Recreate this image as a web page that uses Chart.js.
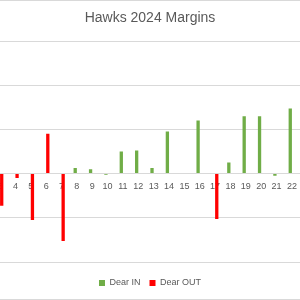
<!DOCTYPE html>
<html>
<head>
<meta charset="utf-8">
<script src="https://cdn.jsdelivr.net/npm/chart.js@4"></script>
<style>
  body { margin: 0; background: #fff; }
  #wrap { position: relative; width: 300px; height: 300px; overflow: hidden; }
  #box { position: absolute; left: -10px; top: 0; width: 320px; height: 300px; }
  .edge { position: absolute; left: 0; width: 300px; height: 1px; background: #d9d9d9; }
</style>
</head>
<body>
<div id="wrap">
  <div id="box"><canvas id="marginsChart"></canvas></div>
  <div class="edge" style="top:0"></div>
  <div class="edge" style="top:299px"></div>
</div>
<script>
// Rounds visible in the chart (round 3 is cut at the left edge)
const rounds = ["3", "4", "5", "6", "7", "8", "9", "10", "11", "12",
                "13", "14", "15", "16", "17", "18", "19", "20", "21", "22"];
// Margin per round, split by whether Dear played
const dearIn = [null, null, null, null, null, 5, 4, -1, 20, 21,
                5, 38, null, 48, null, 10, 52, 52, -2, 59];
const dearOut = [-29, -4, -42, 36, -61, null, null, null, null, null,
                 null, null, null, null, -41, null, null, null, null, null];
const yTicks = [-80, -40, 0, 40, 80, 120];

document.addEventListener("DOMContentLoaded", function () {
    const colors = {
        green: "#70ad47",
        red: "#ff0000",
        grid: "#d9d9d9",
        text: "#595959",
    };
    const font = "'Liberation Sans', Arial, sans-serif";

    const ctx = document.getElementById("marginsChart").getContext("2d");
    new Chart(ctx, {
        type: "bar",
        data: {
            labels: rounds,
            datasets: [
                {
                    label: "Dear IN",
                    data: dearIn,
                    backgroundColor: colors.green,
                    categoryPercentage: 0.43,
                    barPercentage: 1,
                },
                {
                    label: "Dear OUT",
                    data: dearOut,
                    backgroundColor: colors.red,
                    categoryPercentage: 0.43,
                    barPercentage: 1,
                },
            ],
        },
        options: {
            responsive: true,
            maintainAspectRatio: false,
            animation: false,
            layout: {
                padding: { left: 0, right: 0, top: 0, bottom: 2.5 },
            },
            plugins: {
                title: {
                    display: true,
                    text: "Hawks 2024 Margins",
                    color: colors.text,
                    font: { family: font, size: 14, weight: "normal" },
                    padding: { top: 10, bottom: 14.2 },
                },
                legend: {
                    position: "bottom",
                    labels: {
                        color: colors.text,
                        boxWidth: 6,
                        boxHeight: 6,
                        padding: 9,
                        font: { family: font, size: 9 },
                    },
                },
                tooltip: { enabled: false },
            },
            scales: {
                x: {
                    position: { y: 0 },
                    grid: { display: false, drawTicks: false },
                    border: { display: false },
                    ticks: {
                        color: colors.text,
                        autoSkip: false,
                        maxRotation: 0,
                        padding: 7.5,
                        font: { family: font, size: 9 },
                    },
                },
                // empty strip between the plot and the legend
                gap: {
                    type: "category",
                    position: "bottom",
                    grid: { display: false, drawTicks: false },
                    border: { display: false },
                    ticks: { display: false },
                    afterFit: function (scale) {
                        scale.height = 7.5;
                    },
                },
                y: {
                    position: "right",
                    min: yTicks[0],
                    max: yTicks[yTicks.length - 1],
                    afterBuildTicks: function (scale) {
                        scale.ticks = yTicks.map((v) => ({ value: v }));
                    },
                    grid: { color: colors.grid, lineWidth: 1, drawTicks: false },
                    border: { display: false },
                    ticks: { display: false },
                    afterFit: function (scale) {
                        scale.width = 10.4;
                    },
                },
            },
        },
    });
});
</script>
</body>
</html>
